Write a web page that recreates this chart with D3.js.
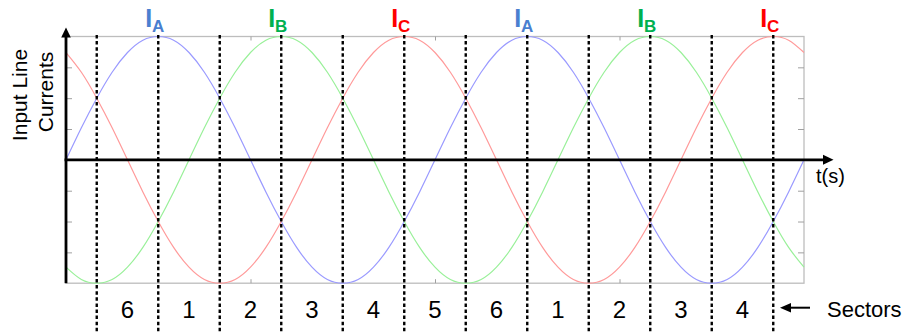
<!DOCTYPE html>
<html>
<head>
<meta charset="utf-8">
<script src="https://cdn.jsdelivr.net/npm/d3@7/dist/d3.min.js"></script>
<style>
  html, body { margin: 0; padding: 0; background: #fff; }
  svg { display: block; font-family: "Liberation Sans", Arial, sans-serif; }
</style>
</head>
<body>
<svg id="chart" width="903" height="333"></svg>
<script>
// Electrical phase (degrees) of each sample, two full cycles
const phase = [0, 15, 30, 45, 60, 75, 90, 105, 120, 135, 150, 165, 180, 195, 210, 225, 240, 255, 270, 285, 300, 315, 330, 345,
               360, 375, 390, 405, 420, 435, 450, 465, 480, 495, 510, 525, 540, 555, 570, 585, 600, 615, 630, 645, 660, 675, 690, 705, 720];

// Normalised line currents
const currentA = [0, 0.26, 0.5, 0.71, 0.87, 0.97, 1, 0.97, 0.87, 0.71, 0.5, 0.26, 0, -0.26, -0.5, -0.71, -0.87, -0.97, -1, -0.97, -0.87, -0.71, -0.5, -0.26,
                  0, 0.26, 0.5, 0.71, 0.87, 0.97, 1, 0.97, 0.87, 0.71, 0.5, 0.26, 0, -0.26, -0.5, -0.71, -0.87, -0.97, -1, -0.97, -0.87, -0.71, -0.5, -0.26, 0];
const currentB = [-0.87, -0.97, -1, -0.97, -0.87, -0.71, -0.5, -0.26, 0, 0.26, 0.5, 0.71, 0.87, 0.97, 1, 0.97, 0.87, 0.71, 0.5, 0.26, 0, -0.26, -0.5, -0.71,
                  -0.87, -0.97, -1, -0.97, -0.87, -0.71, -0.5, -0.26, 0, 0.26, 0.5, 0.71, 0.87, 0.97, 1, 0.97, 0.87, 0.71, 0.5, 0.26, 0, -0.26, -0.5, -0.71, -0.87];
const currentC = [0.87, 0.71, 0.5, 0.26, 0, -0.26, -0.5, -0.71, -0.87, -0.97, -1, -0.97, -0.87, -0.71, -0.5, -0.26, 0, 0.26, 0.5, 0.71, 0.87, 0.97, 1, 0.97,
                  0.87, 0.71, 0.5, 0.26, 0, -0.26, -0.5, -0.71, -0.87, -0.97, -1, -0.97, -0.87, -0.71, -0.5, -0.26, 0, 0.26, 0.5, 0.71, 0.87, 0.97, 1, 0.97, 0.87];

// Sector boundaries (degrees) and the sector number between each pair
const sectorBounds = [30, 90, 150, 210, 270, 330, 390, 450, 510, 570, 630, 690];
const sectorNames = ["6", "1", "2", "3", "4", "5", "6", "1", "2", "3", "4"];

// Peak labels
const peakPhase = [90, 210, 330, 450, 570, 690];
const peakNames = ["A", "B", "C", "A", "B", "C"];

// Tick positions
const yTickValues = [-0.75, -0.5, -0.25, 0.25, 0.5, 0.75];
const xTickValues = [180, 360, 540];

const lineColor = { A: "#9a9aff", B: "#99f099", C: "#ff9a9a" };
const labelColor = { A: "#4a7fd0", B: "#00b050", C: "#ff0000" };

const svg = d3.select("#chart");
const plotLeft = 66, plotRight = 804, plotTop = 36.5, plotBottom = 283.2;

const x = d3.scaleLinear().domain([0, 720]).range([plotLeft, plotRight]);
const y = d3.scaleLinear().domain([-1, 1]).range([plotBottom, plotTop]);

// Grey frame
svg.append("rect")
  .attr("x", plotLeft).attr("y", plotTop)
  .attr("width", plotRight - plotLeft).attr("height", plotBottom - plotTop)
  .attr("fill", "none").attr("stroke", "#bdbdbd").attr("stroke-width", 1.3);

// Inner tick marks on all four sides
function greyTicks(g) {
  g.select(".domain").remove();
  g.selectAll(".tick line").attr("stroke", "#a0a0a0").attr("stroke-width", 1);
  g.selectAll(".tick text").remove();
}
svg.append("g").attr("transform", `translate(${plotLeft},0)`)
  .call(d3.axisRight(y).tickValues(yTickValues).tickSize(6)).call(greyTicks);
svg.append("g").attr("transform", `translate(${plotRight},0)`)
  .call(d3.axisLeft(y).tickValues(yTickValues).tickSize(6)).call(greyTicks);
svg.append("g").attr("transform", `translate(0,${plotTop})`)
  .call(d3.axisBottom(x).tickValues(xTickValues).tickSize(4)).call(greyTicks);
svg.append("g").attr("transform", `translate(0,${plotBottom})`)
  .call(d3.axisTop(x).tickValues(xTickValues).tickSize(4)).call(greyTicks);

// Current waveforms
const line = d3.line()
  .x((d, i) => x(phase[i]))
  .y(d => y(d))
  .curve(d3.curveNatural);

[["A", currentA], ["B", currentB], ["C", currentC]].forEach(([k, vals]) => {
  svg.append("path")
    .attr("d", line(vals))
    .attr("fill", "none")
    .attr("stroke", lineColor[k])
    .attr("stroke-width", 1.2);
});

// Sector boundaries
svg.append("g").selectAll("line")
  .data(sectorBounds)
  .join("line")
  .attr("x1", d => x(d)).attr("x2", d => x(d))
  .attr("y1", 35).attr("y2", 333)
  .attr("stroke", "#000")
  .attr("stroke-width", 2.4)
  .attr("stroke-dasharray", "3.5,2.6");

// Main axes with arrowheads
svg.append("line")
  .attr("x1", plotLeft).attr("x2", plotLeft)
  .attr("y1", plotBottom).attr("y2", 34)
  .attr("stroke", "#000").attr("stroke-width", 2.8);
svg.append("path")
  .attr("d", `M${plotLeft - 4.8},37.5 L${plotLeft + 4.8},37.5 L${plotLeft},27.5 Z`)
  .attr("fill", "#000");

svg.append("line")
  .attr("x1", plotLeft - 1.4).attr("x2", 826)
  .attr("y1", y(0)).attr("y2", y(0))
  .attr("stroke", "#000").attr("stroke-width", 2.8);
svg.append("path")
  .attr("d", `M823,${y(0) - 5} L823,${y(0) + 5} L833.5,${y(0)} Z`)
  .attr("fill", "#000");

// Axis titles
svg.append("text")
  .attr("transform", "translate(27,95) rotate(-90)")
  .attr("text-anchor", "middle")
  .attr("font-size", 21)
  .text("Input Line");
svg.append("text")
  .attr("transform", "translate(53,92) rotate(-90)")
  .attr("text-anchor", "middle")
  .attr("font-size", 21)
  .text("Currents");

svg.append("text")
  .attr("x", 816).attr("y", 183)
  .attr("font-size", 20)
  .text("t(s)");

// Peak labels I_A, I_B, I_C
const peaks = svg.append("g").selectAll("text")
  .data(peakPhase)
  .join("text")
  .attr("x", d => x(d) - 3.5)
  .attr("y", 27)
  .attr("text-anchor", "middle")
  .attr("font-weight", "bold")
  .attr("fill", (d, i) => labelColor[peakNames[i]]);
peaks.append("tspan").attr("font-size", 25).text("I");
peaks.append("tspan").attr("font-size", 17).attr("dy", 4.5).text((d, i) => peakNames[i]);

// Sector numbers
svg.append("g").selectAll("text")
  .data(sectorNames)
  .join("text")
  .attr("x", (d, i) => (x(sectorBounds[i]) + x(sectorBounds[i + 1])) / 2)
  .attr("y", 318)
  .attr("text-anchor", "middle")
  .attr("font-size", 24)
  .text(d => d);

// "Sectors" note with arrow
svg.append("line")
  .attr("x1", 810).attr("x2", 788)
  .attr("y1", 307.7).attr("y2", 307.7)
  .attr("stroke", "#000").attr("stroke-width", 2);
svg.append("path")
  .attr("d", "M780,307.7 L791,303 L791,312.4 Z")
  .attr("fill", "#000");
svg.append("text")
  .attr("x", 827).attr("y", 317)
  .attr("font-size", 22)
  .text("Sectors");
</script>
</body>
</html>
